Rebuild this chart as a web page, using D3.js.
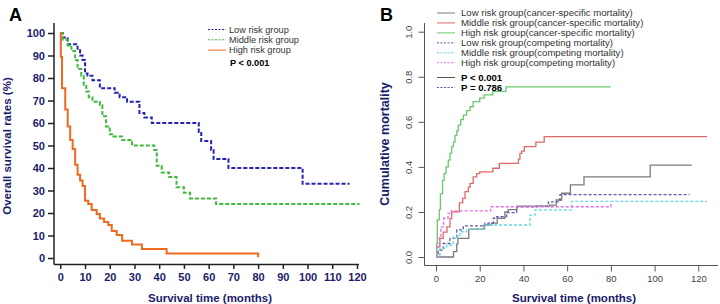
<!DOCTYPE html>
<html>
<head>
<meta charset="utf-8">
<script src="https://cdn.jsdelivr.net/npm/d3@7"></script>
<style>
  body { margin: 0; background: #fff; }
  svg { display: block; font-family: Arial, "Liberation Sans", sans-serif; }
</style>
</head>
<body>
<svg id="chart" width="720" height="304"></svg>
<script>
// ---- data (A: overall survival %, B: cumulative mortality) ----
const kmLow = [[0,100],[1,98],[3,95],[7,93],[8,90],[9,88],[10,82],[11,81],[13,79],[16,75.5],[22,73.5],[24,71.5],[27,69.5],[32,64.5],[34,62.5],[37,60],[56,56],[57,52],[61,48],[62,44],[68,40],[98,33],[117,33]];
const kmMid = [[0,100],[1,97],[3,94.5],[4.5,92],[6,88],[7,84],[8.5,81],[9.5,77],[10.5,74],[11.5,71.5],[13,69.5],[16,68],[17,63],[18.5,58.5],[20,55],[21.5,54],[25,52.5],[29,50],[38,48],[39,41],[41,38],[44,36],[47,31.5],[50,29],[52.5,26.5],[63,24],[121,24]];
const kmHigh = [[0,100],[0.2,89.5],[0.7,75.5],[2,66],[3,58.5],[4,52.5],[5,48.5],[6,41.5],[7,37],[8,34.5],[9,32],[10,25.5],[11.3,24],[12.7,21.3],[14.7,19.6],[16,17.6],[17.7,16],[19.4,14.7],[20.8,12],[22.8,10.2],[25,7.7],[29,6],[33,4],[43,2],[80,0.3],[80,0.3]];
const kmNames = ['Low risk group', 'Middle risk group', 'High risk group'];
const kmP = 'P < 0.001';
const kmXTicks = d3.range(0, 121, 10);
const kmYTicks = d3.range(0, 101, 10);

const cLowCancer = [[0,0],[8,0.024],[9.5,0.058],[10,0.083],[15,0.124],[22,0.142],[25.5,0.15],[28,0.172],[31.5,0.2],[33,0.21],[37,0.226],[52,0.23],[55,0.253],[57.5,0.283],[61.5,0.32],[67.7,0.356],[98,0.408],[117,0.408]];
const cMidCancer = [[0,0],[0.3,0.045],[1.8,0.083],[3.3,0.11],[5,0.134],[6.4,0.17],[7.2,0.2],[10.7,0.24],[12.2,0.26],[13.3,0.29],[14.8,0.31],[15.6,0.327],[17,0.356],[18.6,0.37],[20,0.378],[26,0.394],[29,0.416],[37.7,0.434],[38.4,0.46],[39.2,0.47],[40.4,0.49],[45.7,0.51],[49.5,0.534],[124,0.534]];
const cHighCancer = [[0,0],[0.3,0.06],[0.6,0.165],[1.5,0.21],[2,0.28],[3,0.34],[3.7,0.37],[4.6,0.4],[5.6,0.43],[6.4,0.46],[7.2,0.49],[8,0.51],[8.7,0.54],[9.5,0.56],[10.2,0.585],[11.3,0.61],[12.5,0.63],[14,0.65],[15.6,0.667],[17,0.69],[20,0.705],[22,0.72],[26,0.735],[32,0.755],[80,0.755]];
const cLowComp = [[0,0],[1,0.03],[3.3,0.06],[6.4,0.083],[9.5,0.12],[12.5,0.138],[22.4,0.15],[26.2,0.172],[27.8,0.179],[32.3,0.197],[36.9,0.223],[46,0.226],[51.4,0.245],[56.7,0.277],[116,0.277]];
const cMidComp = [[0,0],[1.8,0.04],[4.9,0.053],[7.9,0.09],[11,0.112],[14,0.123],[22.4,0.142],[43,0.186],[45.3,0.209],[62,0.247],[124,0.247]];
const cHighComp = [[0,0],[0.5,0.045],[1.5,0.09],[2.2,0.134],[3.5,0.172],[5.5,0.194],[7,0.205],[25,0.223],[80,0.235]];
const cNames = ['Low risk group(cancer-specific mortality)', 'Middle risk group(cancer-specific mortality)', 'High risk group(cancer-specific mortality)',
                'Low risk group(competing mortality)', 'Middle risk group(competing mortality)', 'High risk group(competing mortality)'];
const cP = ['P < 0.001', 'P = 0.786'];
const cXTicks = d3.range(0, 121, 20);
const cYTicks = [0, 0.2, 0.4, 0.6, 0.8, 1.0];

const navy = '#1b1b6b';
const svg = d3.select('#chart');

// ================= panel A =================
const xA = d3.scaleLinear().domain([0, 120]).range([60.3, 357]);
const yA = d3.scaleLinear().domain([0, 100]).range([258, 33]);
const gA = svg.append('g');

// axes
const yAxisA = gA.append('g')
  .attr('transform', 'translate(54,0)')
  .call(d3.axisLeft(yA).tickValues(kmYTicks).tickSize(6).tickSizeOuter(0));
yAxisA.select('.domain').remove();
const xAxisA = gA.append('g')
  .attr('transform', 'translate(0,264)')
  .call(d3.axisBottom(xA).tickValues(kmXTicks).tickSize(5).tickSizeOuter(0));
xAxisA.select('.domain').remove();
gA.append('line').attr('x1', 54).attr('x2', 54).attr('y1', 23).attr('y2', 264.5)
  .attr('stroke', '#222').attr('stroke-width', 1.5);
gA.append('line').attr('x1', 54).attr('x2', 359).attr('y1', 264.5).attr('y2', 264.5)
  .attr('stroke', '#222').attr('stroke-width', 1.5);
[yAxisA, xAxisA].forEach(a => {
  a.selectAll('.tick line').attr('stroke', '#222').attr('stroke-width', 1.5);
  a.selectAll('.tick text').attr('fill', navy).attr('font-size', 11).attr('font-weight', 'bold')
    .attr('font-family', 'Arial, "Liberation Sans", sans-serif');
});
yAxisA.selectAll('.tick text').attr('x', -9);
xAxisA.selectAll('.tick text').attr('y', 9);

gA.append('text').attr('x', 210).attr('y', 302).attr('text-anchor', 'middle')
  .attr('fill', navy).attr('font-size', 11.5).attr('font-weight', 'bold').text('Survival time (months)');
gA.append('text').attr('transform', 'translate(11,146) rotate(-90)').attr('text-anchor', 'middle')
  .attr('fill', navy).attr('font-size', 11.5).attr('font-weight', 'bold').text('Overall survival rates (%)');
gA.append('text').attr('x', 9).attr('y', 21).attr('font-size', 18).attr('font-weight', 'bold').text('A');

const lineA = d3.line().x(d => xA(d[0])).y(d => yA(d[1])).curve(d3.curveStepAfter);
const kmStyle = [
  { data: kmLow, color: '#2424b0', dash: '4,2' },
  { data: kmMid, color: '#3fba3f', dash: '4,2' },
  { data: kmHigh, color: '#ef6a1e', dash: null }
];
kmStyle.forEach(s => {
  gA.append('path').datum(s.data).attr('d', lineA)
    .attr('fill', 'none').attr('stroke', s.color).attr('stroke-width', 2)
    .attr('stroke-dasharray', s.dash);
});

// legend A
kmStyle.forEach((s, i) => {
  const y = 29.5 + i * 10.3;
  gA.append('line').attr('x1', 208).attr('x2', 226).attr('y1', y).attr('y2', y)
    .attr('stroke', s.color).attr('stroke-width', 1).attr('stroke-dasharray', s.dash ? '2,1.5' : null);
  gA.append('text').attr('x', 229).attr('y', y + 3.2).attr('font-size', 9.2).attr('fill', '#333').text(kmNames[i]);
});
gA.append('text').attr('x', 230).attr('y', 65.5).attr('font-size', 9.2).attr('font-weight', 'bold').text(kmP);

// ================= panel B =================
const xB = d3.scaleLinear().domain([0, 120]).range([436, 698.3]);
const yB = d3.scaleLinear().domain([0, 1]).range([257, 31.7]);
const gB = svg.append('g');

const yAxisB = gB.append('g').attr('transform', 'translate(424.5,0)')
  .call(d3.axisLeft(yB).tickValues(cYTicks).tickSize(6).tickSizeOuter(0).tickFormat(d3.format('.1f')));
yAxisB.select('.domain').remove();
const xAxisB = gB.append('g').attr('transform', 'translate(0,265.5)')
  .call(d3.axisBottom(xB).tickValues(cXTicks).tickSize(6).tickSizeOuter(0));
xAxisB.select('.domain').remove();
gB.append('line').attr('x1', 424.5).attr('x2', 424.5).attr('y1', 23).attr('y2', 265.5)
  .attr('stroke', '#555').attr('stroke-width', 1);
gB.append('line').attr('x1', 424.5).attr('x2', 718).attr('y1', 265.5).attr('y2', 265.5)
  .attr('stroke', '#555').attr('stroke-width', 1);
[yAxisB, xAxisB].forEach(a => {
  a.selectAll('.tick line').attr('stroke', '#555');
  a.selectAll('.tick text').attr('fill', '#444').attr('font-size', 9.5)
    .attr('font-family', 'Arial, "Liberation Sans", sans-serif');
});
xAxisB.selectAll('.tick text').attr('y', 10);
yAxisB.selectAll('.tick text')
  .attr('x', 0).attr('y', 0).attr('dy', null)
  .attr('text-anchor', 'middle')
  .attr('transform', 'translate(-13,0) rotate(-90)');

gB.append('text').attr('x', 574).attr('y', 302).attr('text-anchor', 'middle')
  .attr('fill', navy).attr('font-size', 11.5).attr('font-weight', 'bold').text('Survival time (months)');
gB.append('text').attr('transform', 'translate(389,144) rotate(-90)').attr('text-anchor', 'middle')
  .attr('fill', navy).attr('font-size', 12.5).attr('font-weight', 'bold').text('Cumulative mortality');
gB.append('text').attr('x', 380).attr('y', 21).attr('font-size', 18).attr('font-weight', 'bold').text('B');

const lineB = d3.line().x(d => xB(d[0])).y(d => yB(d[1])).curve(d3.curveStepAfter);
const cStyle = [
  { data: cLowCancer, color: '#7a7a7a', dash: null },
  { data: cMidCancer, color: '#e06868', dash: null },
  { data: cHighCancer, color: '#6cc86c', dash: null },
  { data: cLowComp, color: '#5a5aa8', dash: '3,2' },
  { data: cMidComp, color: '#5fd8e8', dash: '3,2' },
  { data: cHighComp, color: '#e070e0', dash: '3,2' }
];
cStyle.forEach(s => {
  gB.append('path').datum(s.data).attr('d', lineB)
    .attr('fill', 'none').attr('stroke', s.color).attr('stroke-width', 1.3)
    .attr('stroke-dasharray', s.dash);
});

// legend B
cStyle.forEach((s, i) => {
  const y = 13 + i * 9.95;
  gB.append('line').attr('x1', 437).attr('x2', 455).attr('y1', y).attr('y2', y)
    .attr('stroke', s.color).attr('stroke-width', 1).attr('stroke-dasharray', s.dash ? '2,1.5' : null);
  gB.append('text').attr('x', 461).attr('y', y + 3.3).attr('font-size', 9.6).attr('fill', '#333').text(cNames[i]);
});
cP.forEach((p, i) => {
  const y = 77.5 + i * 10;
  gB.append('line').attr('x1', 437).attr('x2', 455).attr('y1', y).attr('y2', y)
    .attr('stroke', i === 0 ? '#555' : '#5a5aa8').attr('stroke-width', 1)
    .attr('stroke-dasharray', i === 0 ? null : '2,1.5');
  gB.append('text').attr('x', 461).attr('y', y + 3.3).attr('font-size', 9.6).attr('font-weight', 'bold').text(p);
});
</script>
</body>
</html>
